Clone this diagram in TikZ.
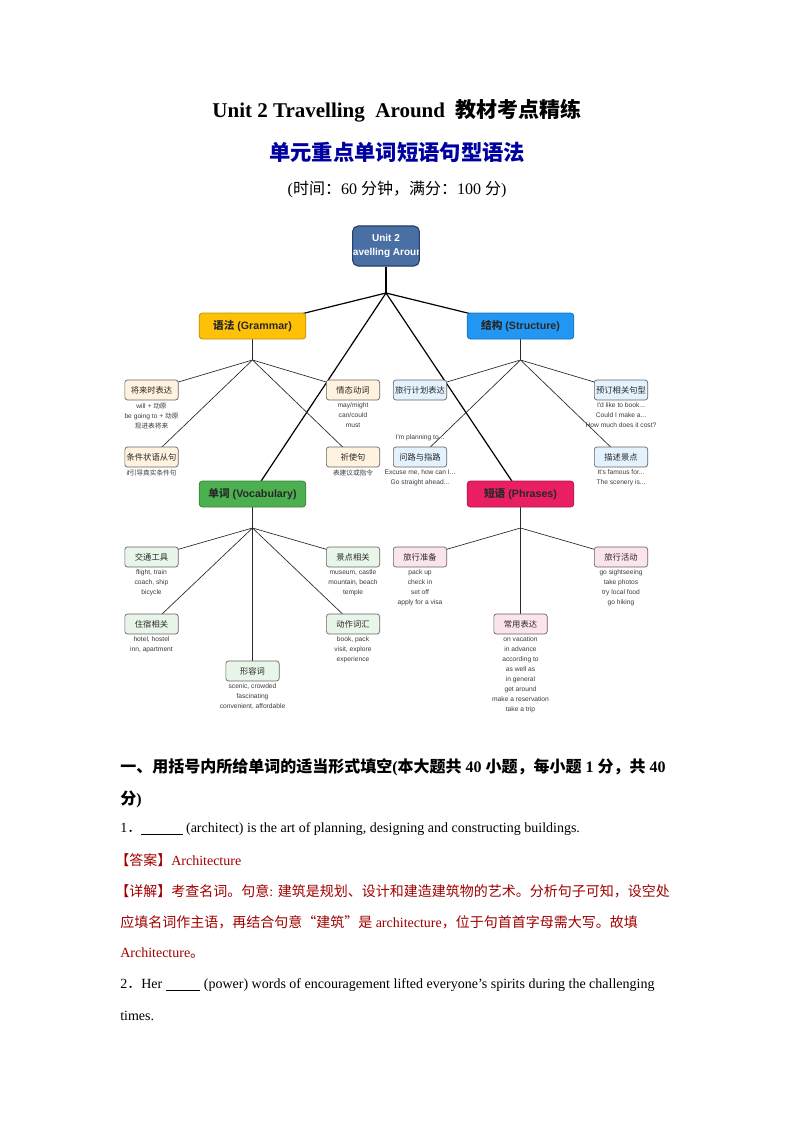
\documentclass[tikz,border=0pt]{standalone}
\usepackage{fontspec}
\setmainfont{Liberation Serif}
\newfontfamily\arialfont{Liberation Sans}
\newfontfamily\cjk{Noto Sans CJK SC}
\newcommand{\zhtxt}[1]{{\cjk #1}}
\usetikzlibrary{positioning,backgrounds}

\definecolor{rootfill}{RGB}{74,111,165}
\definecolor{rootline}{RGB}{40,62,100}
\definecolor{gramfill}{RGB}{255,193,7}
\definecolor{strufill}{RGB}{33,150,243}
\definecolor{vocfill}{RGB}{76,175,80}
\definecolor{phrfill}{RGB}{233,30,99}
\definecolor{gramsub}{RGB}{255,243,224}
\definecolor{strusub}{RGB}{227,242,253}
\definecolor{vocsub}{RGB}{232,245,233}
\definecolor{phrsub}{RGB}{252,228,236}
\definecolor{darktext}{RGB}{40,40,40}
\definecolor{detailtext}{RGB}{60,60,60}
\definecolor{subline}{RGB}{100,100,100}
\definecolor{subblue}{RGB}{0,0,160}
\definecolor{keyred}{RGB}{160,0,0}

\begin{document}
\begin{tikzpicture}[x=0.75pt,y=-0.75pt,
  rootbox/.style={draw=rootline,fill=rootfill,rounded corners=4pt,line width=0.8pt,
    minimum width=50pt,minimum height=30pt},
  mainbox/.style={draw=#1!75!black,fill=#1,rounded corners=2.5pt,line width=0.6pt,
    minimum width=80pt,minimum height=19.5pt,text=darktext,
    font=\arialfont\bfseries\fontsize{8}{9.6}\selectfont},
  subbox/.style={draw=subline,fill=#1,rounded corners=2pt,line width=0.5pt,
    minimum width=40pt,minimum height=15pt,inner sep=1pt,text=darktext,
    font=\arialfont\fontsize{6.2}{7}\selectfont},
  detail/.style={font=\arialfont\fontsize{5}{7.5}\selectfont,text=detailtext,
    align=center,inner sep=0.6pt},
  trunk/.style={line width=0.9pt},
  twig/.style={line width=0.5pt,draw=darktext},
  bodyline/.style={anchor=west,inner sep=0pt,font=\fontsize{10.5}{12}\selectfont}
]
\useasboundingbox (0,0) rectangle (794,1123);

% title block
\node[font=\bfseries\fontsize{15.75}{18}\selectfont] (title) at (397,111)
  {Unit 2 Travelling\ \ Around\ \ \zhtxt{教材考点精练}};
\node[font=\bfseries\fontsize{16}{18}\selectfont,text=subblue] (subtitle) at (397,152)
  {\zhtxt{单元重点单词短语句型语法}};
\node[font=\fontsize{12}{14}\selectfont] (time) at (397,189)
  {(\zhtxt{时间：}60 \zhtxt{分钟，满分：}100 \zhtxt{分})};

% mind map: root and branches
\node[rootbox,path picture={\node[text=white,align=center,
    font=\arialfont\bfseries\fontsize{7.5}{10.5}\selectfont]
    at (path picture bounding box.center) {Unit 2\\Travelling Around};}] (root) at (386,246) {};
\coordinate (hub) at (386,293);
\node[mainbox=gramfill] (gram) at (252.5,326) {\zhtxt{语法} (Grammar)};
\node[mainbox=strufill] (stru) at (520.5,326) {\zhtxt{结构} (Structure)};
\node[mainbox=vocfill] (voc) at (252.5,494) {\zhtxt{单词} (Vocabulary)};
\node[mainbox=phrfill] (phr) at (520.5,494) {\zhtxt{短语} (Phrases)};
\coordinate (gramhub) at (252.5,360);
\coordinate (struhub) at (520.5,360);
\coordinate (vochub) at (252.5,528);
\coordinate (phrhub) at (520.5,528);

% grammar
\node[subbox=gramsub] (fut) at (151.5,390) {\zhtxt{将来时表达}};
\node[subbox=gramsub] (cond) at (151.5,457) {\zhtxt{条件状语从句}};
\node[subbox=gramsub] (modal) at (353,390) {\zhtxt{情态动词}};
\node[subbox=gramsub] (imp) at (353,457) {\zhtxt{祈使句}};
\node[detail,below=1.2pt of fut] (futd) {will + \zhtxt{动原}\\be going to + \zhtxt{动原}\\\zhtxt{现进表将来}};
\node[detail,below=1.2pt of cond] (condd) {if\zhtxt{引导真实条件句}};
\node[detail,below=1.2pt of modal] (modald) {may/might\\can/could\\must};
\node[detail,below=1.2pt of imp] (impd) {\zhtxt{表建议或指令}};

% structure
\node[detail] (pland) at (420,438) {I'm planning to...};
\node[subbox=strusub] (plan) at (420,390) {\zhtxt{旅行计划表达}};
\node[subbox=strusub] (ask) at (420,457) {\zhtxt{问路与指路}};
\node[subbox=strusub] (book) at (621,390) {\zhtxt{预订相关句型}};
\node[subbox=strusub] (desc) at (621,457) {\zhtxt{描述景点}};
\node[detail,below=1.2pt of ask] (askd) {Excuse me, how can I...\\Go straight ahead...};
\node[detail,below=1.2pt of book] (bookd) {I'd like to book...\\Could I make a...\\How much does it cost?};
\node[detail,below=1.2pt of desc] (descd) {It's famous for...\\The scenery is...};

% vocabulary
\node[subbox=vocsub] (traf) at (151.5,557) {\zhtxt{交通工具}};
\node[subbox=vocsub] (stay) at (151.5,624) {\zhtxt{住宿相关}};
\node[subbox=vocsub] (adj) at (252.5,671) {\zhtxt{形容词}};
\node[subbox=vocsub] (sight) at (353,557) {\zhtxt{景点相关}};
\node[subbox=vocsub] (act) at (353,624) {\zhtxt{动作词汇}};
\node[detail,below=1.2pt of traf] (trafd) {flight, train\\coach, ship\\bicycle};
\node[detail,below=1.2pt of stay] (stayd) {hotel, hostel\\inn, apartment};
\node[detail,below=1.2pt of adj] (adjd) {scenic, crowded\\fascinating\\convenient, affordable};
\node[detail,below=1.2pt of sight] (sightd) {museum, castle\\mountain, beach\\temple};
\node[detail,below=1.2pt of act] (actd) {book, pack\\visit, explore\\experience};

% phrases
\node[subbox=phrsub] (prep) at (420,557) {\zhtxt{旅行准备}};
\node[subbox=phrsub] (expr) at (520.5,624) {\zhtxt{常用表达}};
\node[subbox=phrsub] (acti) at (621,557) {\zhtxt{旅行活动}};
\node[detail,below=1.2pt of prep] (prepd) {pack up\\check in\\set off\\apply for a visa};
\node[detail,below=1.2pt of expr] (exprd) {on vacation\\in advance\\according to\\as well as\\in general\\get around\\make a reservation\\take a trip};
\node[detail,below=1.2pt of acti] (actid) {go sightseeing\\take photos\\try local food\\go hiking};

% connectors behind the boxes
\begin{scope}[on background layer]
\fill[white] (0,0) rectangle (794,1123);
\draw[trunk] (root) -- (hub);
\foreach \n in {gram,stru,voc,phr} \draw[trunk] (hub) -- (\n.center);
\draw[twig] (gram) -- (gramhub);
\draw[twig] (stru) -- (struhub);
\draw[twig] (voc) -- (vochub);
\draw[twig] (phr) -- (phrhub);
\foreach \n in {fut,cond,modal,imp} \draw[twig] (gramhub) -- (\n.center);
\foreach \n in {plan,ask,book,desc} \draw[twig] (struhub) -- (\n.center);
\foreach \n in {traf,stay,adj,sight,act} \draw[twig] (vochub) -- (\n.center);
\foreach \n in {prep,expr,acti} \draw[twig] (phrhub) -- (\n.center);
\end{scope}

% exercise text
\node[bodyline,font=\bfseries\fontsize{12}{14}\selectfont] (head1) at (120,767)
  {\zhtxt{一、用括号内所给单词的适当形式填空}(\zhtxt{本大题共} 40 \zhtxt{小题，每小题} 1 \zhtxt{分，共} 40};
\node[bodyline,font=\bfseries\fontsize{12}{14}\selectfont] (head2) at (120,799) {\zhtxt{分})};
\node[bodyline] (q1) at (120,829)
  {1\zhtxt{．}\underline{\hspace{31pt}}\ (architect) is the art of planning, designing and constructing buildings.};
\node[bodyline,text=keyred] (ans1) at (115,860) {\zhtxt{【答案】}Architecture};
\node[bodyline,text=keyred] (exp1) at (115,891)
  {\zhtxt{【详解】考查名词。句意}: \zhtxt{建筑是规划、设计和建造建筑物的艺术。分析句子可知，设空处}};
\node[bodyline,text=keyred] (exp2) at (120,922)
  {\zhtxt{应填名词作主语，再结合句意“建筑”是} architecture\zhtxt{，位于句首首字母需大写。故填}};
\node[bodyline,text=keyred] (exp3) at (120,953) {Architecture\zhtxt{。}};
\node[bodyline] (q2) at (120,985)
  {2\zhtxt{．}Her \underline{\hspace{26pt}}\ (power) words of encouragement lifted everyone’s spirits during the challenging};
\node[bodyline] (q2b) at (120,1016) {times.};
\end{tikzpicture}
\end{document}
